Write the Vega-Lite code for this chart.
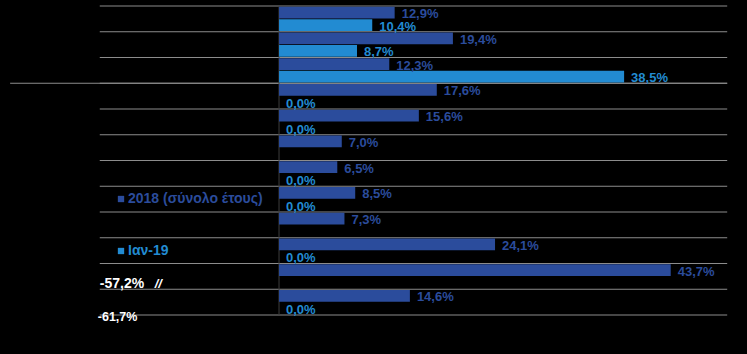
{
  "$schema": "https://vega.github.io/schema/vega-lite/v6.json",
  "width": 747,
  "height": 354,
  "autosize": {"type": "fit", "contains": "padding"},
  "padding": 0,
  "background": "#000000",
  "config": {
    "view": {"stroke": null},
    "font": "Liberation Sans",
    "locale": {"number": {"decimal": ",", "thousands": ".", "grouping": [3], "currency": ["", " €"], "minus": "-"}}
  },
  "datasets": {
    "main": [
      {"row": 1, "series": "2018 (σύνολο έτους)", "value": 0.129},
      {"row": 1, "series": "Ιαν-19", "value": 0.104},
      {"row": 2, "series": "2018 (σύνολο έτους)", "value": 0.194},
      {"row": 2, "series": "Ιαν-19", "value": 0.087},
      {"row": 3, "series": "2018 (σύνολο έτους)", "value": 0.123},
      {"row": 3, "series": "Ιαν-19", "value": 0.385},
      {"row": 4, "series": "2018 (σύνολο έτους)", "value": 0.176},
      {"row": 4, "series": "Ιαν-19", "value": 0.0},
      {"row": 5, "series": "2018 (σύνολο έτους)", "value": 0.156},
      {"row": 5, "series": "Ιαν-19", "value": 0.0},
      {"row": 6, "series": "2018 (σύνολο έτους)", "value": 0.07},
      {"row": 6, "series": "Ιαν-19", "value": null},
      {"row": 7, "series": "2018 (σύνολο έτους)", "value": 0.065},
      {"row": 7, "series": "Ιαν-19", "value": 0.0},
      {"row": 8, "series": "2018 (σύνολο έτους)", "value": 0.085},
      {"row": 8, "series": "Ιαν-19", "value": 0.0},
      {"row": 9, "series": "2018 (σύνολο έτους)", "value": 0.073},
      {"row": 9, "series": "Ιαν-19", "value": null},
      {"row": 10, "series": "2018 (σύνολο έτους)", "value": 0.241},
      {"row": 10, "series": "Ιαν-19", "value": 0.0},
      {"row": 11, "series": "2018 (σύνολο έτους)", "value": 0.437},
      {"row": 11, "series": "Ιαν-19", "value": -0.572},
      {"row": 12, "series": "2018 (σύνολο έτους)", "value": 0.146},
      {"row": 12, "series": "Ιαν-19", "value": 0.0}
    ],
    "extra": [
      {"row": 12, "series": "Ιαν-19", "value": -0.617}
    ]
  },
  "encoding": {
    "y": {
      "field": "row", "type": "ordinal", "axis": null,
      "scale": {"paddingInner": 0, "paddingOuter": 0.8738, "align": 0.1333}
    }
  },
  "layer": [
    {
      "data": {"name": "main"},
      "transform": [{"filter": "datum.series === '2018 (σύνολο έτους)'"}],
      "mark": {"type": "rule", "color": "#8c8c8c", "strokeWidth": 1.2},
      "encoding": {
        "y": {"field": "row", "type": "ordinal", "bandPosition": 0},
        "x": {"datum": -0.2, "type": "quantitative", "scale": {"domain": [-0.3113, 0.5221], "nice": false, "zero": false}, "axis": null},
        "x2": {"datum": 0.5}
      }
    },
    {
      "data": {"name": "main"},
      "transform": [{"filter": "datum.series === '2018 (σύνολο έτους)' && datum.row === 4"}],
      "mark": {"type": "rule", "color": "#8c8c8c", "strokeWidth": 1.2},
      "encoding": {
        "y": {"field": "row", "type": "ordinal", "bandPosition": 0},
        "x": {"datum": -0.3, "type": "quantitative"},
        "x2": {"datum": 0.5}
      }
    },
    {
      "data": {"name": "main"},
      "transform": [{"filter": "datum.series === '2018 (σύνολο έτους)' && datum.row === 12"}],
      "mark": {"type": "rule", "color": "#8c8c8c", "strokeWidth": 1.2},
      "encoding": {
        "y": {"field": "row", "type": "ordinal", "bandPosition": 1},
        "x": {"datum": -0.2, "type": "quantitative"},
        "x2": {"datum": 0.5}
      }
    },
    {
      "data": {"name": "main"},
      "transform": [{"filter": "datum.series === '2018 (σύνολο έτους)'"}],
      "mark": {"type": "rule", "color": "#3c3c3c", "strokeWidth": 1},
      "encoding": {
        "y": {"field": "row", "type": "ordinal", "bandPosition": 0},
        "y2": {"field": "row", "bandPosition": 1},
        "x": {"datum": 0, "type": "quantitative"}
      }
    },
    {
      "data": {"name": "main"},
      "transform": [{"filter": "isValid(datum.value) && datum.value >= 0"}],
      "mark": {"type": "bar"},
      "encoding": {
        "x": {"field": "value", "type": "quantitative"},
        "yOffset": {"field": "series", "type": "nominal", "scale": {"paddingInner": 0.06, "paddingOuter": 0.06}},
        "color": {
          "field": "series", "type": "nominal",
          "scale": {"domain": ["2018 (σύνολο έτους)", "Ιαν-19"], "range": ["#2B4C9C", "#228BD2"]},
          "legend": {
            "title": null,
            "orient": "none",
            "legendX": 114,
            "legendY": 192,
            "direction": "vertical",
            "symbolType": "square",
            "symbolSize": 40,
            "symbolStrokeWidth": 0,
            "labelFont": "Liberation Sans",
            "labelFontSize": 14,
            "labelFontWeight": "bold",
            "labelOffset": 0,
            "rowPadding": 38,
            "padding": 0,
            "encode": {"labels": {"update": {"fill": {"scale": "color", "field": "value"}}}}
          }
        }
      }
    },
    {
      "data": {"name": "main"},
      "transform": [{"filter": "isValid(datum.value) && datum.value >= 0"}],
      "mark": {"type": "text", "align": "left", "baseline": "middle", "dx": 7, "dy": 1.5, "fontSize": 13, "fontWeight": "bold"},
      "encoding": {
        "x": {"field": "value", "type": "quantitative"},
        "yOffset": {"field": "series", "type": "nominal"},
        "text": {"field": "value", "type": "quantitative", "format": ".1%"},
        "color": {"field": "series", "type": "nominal", "legend": null}
      }
    },
    {
      "data": {"name": "main"},
      "transform": [{"filter": "isValid(datum.value) && datum.value < 0"}],
      "mark": {"type": "text", "align": "left", "baseline": "middle", "dy": 1, "fontSize": 14, "fontWeight": "bold", "color": "#ffffff"},
      "encoding": {
        "x": {"datum": -0.2, "type": "quantitative"},
        "yOffset": {"field": "series", "type": "nominal"},
        "text": {"field": "value", "type": "quantitative", "format": ".1%"}
      }
    },
    {
      "data": {"name": "main"},
      "transform": [{"filter": "isValid(datum.value) && datum.value < 0"}],
      "mark": {"type": "text", "align": "left", "baseline": "middle", "dx": 55, "dy": 1, "fontSize": 13, "fontWeight": "bold", "fontStyle": "italic", "color": "#ffffff"},
      "encoding": {
        "x": {"datum": -0.2, "type": "quantitative"},
        "yOffset": {"field": "series", "type": "nominal"},
        "text": {"value": "//"}
      }
    },
    {
      "data": {"name": "extra"},
      "mark": {"type": "text", "align": "left", "baseline": "middle", "dx": -2, "dy": 9, "fontSize": 12.5, "fontWeight": "bold", "color": "#ffffff"},
      "encoding": {
        "x": {"datum": -0.2, "type": "quantitative"},
        "yOffset": {"field": "series", "type": "nominal"},
        "text": {"field": "value", "type": "quantitative", "format": ".1%"}
      }
    }
  ]
}
